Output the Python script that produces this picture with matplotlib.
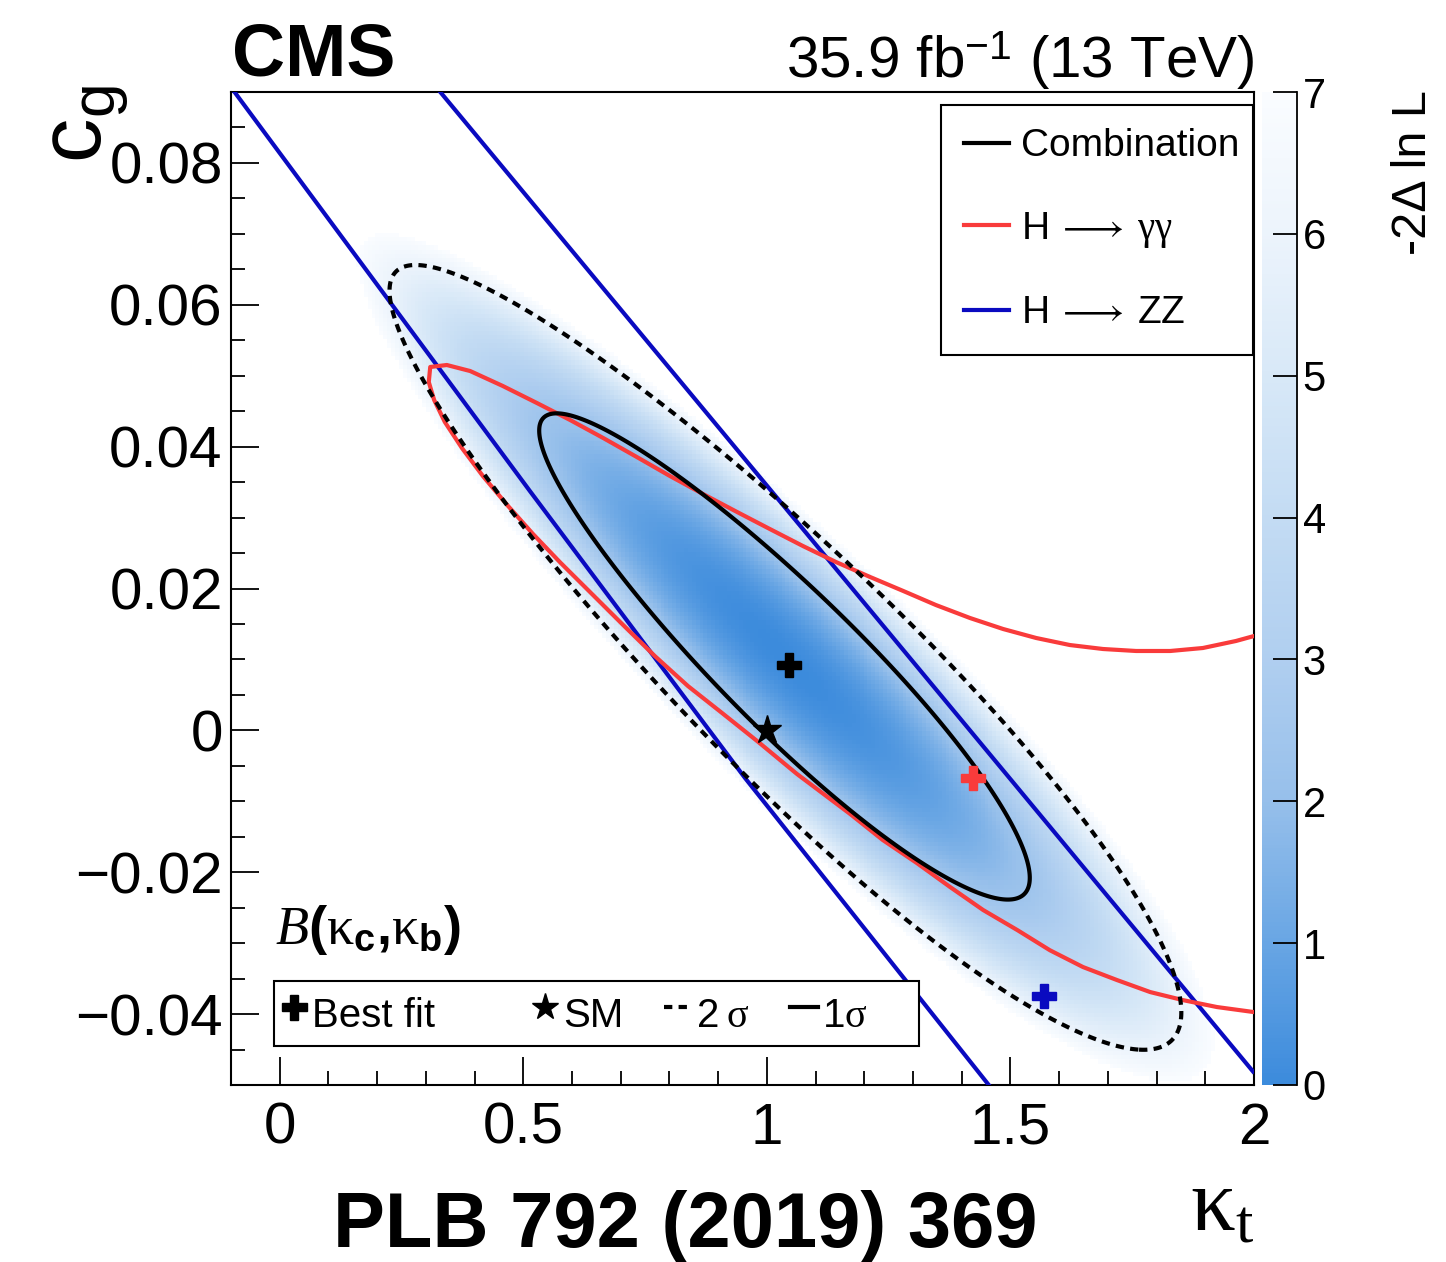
import numpy as np
import matplotlib
matplotlib.use("Agg")
import matplotlib.pyplot as plt
from matplotlib.colors import LinearSegmentedColormap
from matplotlib.lines import Line2D
from matplotlib.ticker import MultipleLocator

plt.rcParams['font.family'] = ['Liberation Sans', 'DejaVu Sans']
plt.rcParams['mathtext.fontset'] = 'custom'
plt.rcParams['mathtext.rm'] = 'Liberation Serif'
plt.rcParams['mathtext.it'] = 'Liberation Serif:italic'
plt.rcParams['mathtext.bf'] = 'Liberation Sans:bold'
plt.rcParams['mathtext.sf'] = 'Liberation Sans'
plt.rcParams['mathtext.fallback'] = 'stix'

# --- data --------------------------------------------------------------
# combined likelihood (-2 dlnL), approximated as a correlated quadratic
# whose width grows slightly towards large kappa_t
comb_center = (1.035, 0.0105)
comb_sigma = (0.332, 0.0226)
comb_rho = -0.92
comb_skew = 0.04
level_1sig = 2.30
level_2sig = 5.99

# best-fit points and SM
best_comb = (1.045, 0.0092)
best_gg = (1.424, -0.0067)
best_zz = (1.568, -0.0375)
sm_point = (1.0, 0.0)

# H -> gamma gamma 1 sigma contour (upper branch right->left, then lower branch)
gg_kt = [2.000, 1.963, 1.895, 1.828, 1.758, 1.690, 1.622, 1.553, 1.485, 1.417,
         1.347, 1.280, 1.212, 1.142, 1.074, 1.006, 0.939, 0.869, 0.801, 0.733,
         0.664, 0.596, 0.528, 0.458, 0.391, 0.343, 0.309,
         0.306, 0.317, 0.339, 0.374, 0.417, 0.467, 0.520, 0.575, 0.637, 0.703,
         0.770, 0.838, 0.908, 0.980, 1.062, 1.171, 1.238, 1.308, 1.376, 1.444,
         1.514, 1.581, 1.649, 1.719, 1.787, 1.854, 1.924, 2.000]
gg_cg = [0.01330, 0.01260, 0.01161, 0.01119, 0.01119, 0.01147, 0.01203, 0.01302, 0.01429, 0.01584,
         0.01767, 0.01965, 0.02162, 0.02373, 0.02599, 0.02839, 0.03078, 0.03332, 0.03586, 0.03854,
         0.04122, 0.04376, 0.04615, 0.04855, 0.05066, 0.05151, 0.05123,
         0.04911, 0.04658, 0.04347, 0.03981, 0.03586, 0.03177, 0.02768, 0.02373, 0.01950, 0.01499,
         0.01048, 0.00625, 0.00245, -0.00150, -0.00616, -0.01179, -0.01546, -0.01871, -0.02208, -0.02533,
         -0.02815, -0.03100, -0.03337, -0.03521, -0.03690, -0.03803, -0.03901, -0.03972]

# H -> ZZ 1 sigma band (two nearly straight edges)
zz_left_kt = [-0.096, 0.514, 0.955, 1.459]
zz_left_cg = [0.0903, 0.0337, -0.0067, -0.0503]
zz_right_kt = [0.326, 1.998]
zz_right_cg = [0.0903, -0.0481]

x_ticks = [0, 0.5, 1, 1.5, 2]
x_labels = ['0', '0.5', '1', '1.5', '2']
y_ticks = [-0.04, -0.02, 0, 0.02, 0.04, 0.06, 0.08]
y_labels = ['\u22120.04', '\u22120.02', '0', '0.02', '0.04', '0.06', '0.08']
z_ticks = [0, 1, 2, 3, 4, 5, 6, 7]

RED = '#f93b3b'
BLUE = '#0a0ac0'
LW = 3.0

# palette: strong blue at 0 fading to white at 7
cmap = LinearSegmentedColormap.from_list('nll', [
    (0.0, (0.235, 0.545, 0.863)),
    (1 / 7, (0.41, 0.65, 0.894)),
    (2 / 7, (0.59, 0.75, 0.92)),
    (3 / 7, (0.69, 0.81, 0.94)),
    (4 / 7, (0.765, 0.86, 0.953)),
    (5 / 7, (0.845, 0.91, 0.97)),
    (6 / 7, (0.925, 0.955, 0.987)),
    (1.0, (0.98, 0.99, 1.0)),
])


def nll(x, y):
    u = (x - comb_center[0]) / comb_sigma[0]
    v = (y - comb_center[1]) / comb_sigma[1]
    a = (u - v) / np.sqrt(2)      # along the long axis
    b = (u + v) / np.sqrt(2)      # across it
    w = 1 + comb_skew * a / np.sqrt(1 - comb_rho)
    return a ** 2 / (1 - comb_rho) + (b / w) ** 2 / (1 + comb_rho)


W, H = 1446, 1262
fig = plt.figure(figsize=(W / 100, H / 100), dpi=100)
ax = fig.add_axes([231 / W, 1 - 1085 / H, 1023 / W, 993 / H])
cax = fig.add_axes([1262 / W, 1 - 1085 / H, 35 / W, 993 / H])

xlo, xhi, ylo, yhi = -0.1, 2.0, -0.05, 0.09

# heat map (coarse bins like the original histogram)
xe = np.linspace(xlo, xhi, 263)
ye = np.linspace(ylo, yhi, 234)
xc = 0.5 * (xe[1:] + xe[:-1])
yc = 0.5 * (ye[1:] + ye[:-1])
Zc = nll(*np.meshgrid(xc, yc))
Zc = np.ma.masked_where(Zc > 7, Zc)
mesh = ax.pcolormesh(xe, ye, Zc, cmap=cmap, vmin=0, vmax=7, shading='flat', zorder=1)

# ZZ and gamma gamma contours
ax.plot(zz_left_kt, zz_left_cg, color=BLUE, lw=LW, zorder=3)
ax.plot(zz_right_kt, zz_right_cg, color=BLUE, lw=LW, zorder=3)
ax.plot(gg_kt, gg_cg, color=RED, lw=LW, zorder=4, solid_joinstyle='round')

# combination contours
xf = np.linspace(xlo, xhi, 700)
yf = np.linspace(ylo, yhi, 700)
Xf, Yf = np.meshgrid(xf, yf)
Zf = nll(Xf, Yf)
ax.contour(Xf, Yf, Zf, levels=[level_1sig], colors='k', linewidths=LW, zorder=5)
cs2 = ax.contour(Xf, Yf, Zf, levels=[level_2sig], colors='k', linewidths=LW, zorder=5)
cs2.set_linestyle((0, (2.0, 1.5)))

# markers
ax.plot(*best_comb, marker='P', color='k', ms=17, ls='none', zorder=6)
ax.plot(*best_gg, marker='P', color=RED, ms=17, ls='none', zorder=6)
ax.plot(*best_zz, marker='P', color=BLUE, ms=17, ls='none', zorder=6)
ax.plot(*sm_point, marker='*', color='k', ms=21, ls='none', zorder=6)

ax.set_xlim(xlo, xhi)
ax.set_ylim(ylo, yhi)
ax.set_xticks(x_ticks)
ax.set_xticklabels(x_labels)
ax.set_yticks(y_ticks)
ax.set_yticklabels(y_labels)
ax.xaxis.set_minor_locator(MultipleLocator(0.1))
ax.yaxis.set_minor_locator(MultipleLocator(0.005))
ax.tick_params(which='both', direction='in', top=False, right=False, width=1.3)
ax.tick_params(which='major', length=20, labelsize=42)
ax.tick_params(which='minor', length=10)
ax.tick_params(axis='x', pad=12)
ax.tick_params(axis='y', pad=6)
for sp in ax.spines.values():
    sp.set_linewidth(1.5)

# legends
leg1 = ax.legend(
    [Line2D([], [], color='k', lw=LW), Line2D([], [], color=RED, lw=LW),
     Line2D([], [], color=BLUE, lw=LW)],
    ['Combination', r'H$\;\longrightarrow\;\mathrm{\gamma\gamma}$', r'H$\;\longrightarrow\;$ZZ'],
    loc='upper left', bbox_to_anchor=(0.694, 0.738, 0.305, 0.249), mode='expand',
    borderaxespad=0, fontsize=28, frameon=True, fancybox=False, edgecolor='k',
    framealpha=1, labelspacing=1.17, handlelength=1.15, handletextpad=0.3, borderpad=0.6)
leg1.get_frame().set_linewidth(1.5)
ax.add_artist(leg1)

leg2 = ax.legend(
    [Line2D([], [], marker='P', color='k', ls='none', ms=18),
     Line2D([], [], marker='*', color='k', ls='none', ms=20),
     Line2D([], [], color='k', lw=LW, ls=(0, (2.0, 1.5))),
     Line2D([], [], color='k', lw=LW)],
    ['Best fit     ', 'SM', r'2$\;\mathrm{\sigma}$', r'1$\mathrm{\sigma}$     '],
    ncol=4, loc='lower left', bbox_to_anchor=(0.042, 0.039),
    borderaxespad=0, fontsize=29, frameon=True, fancybox=False, edgecolor='k',
    framealpha=1, handlelength=0.7, handletextpad=0.1, borderpad=0.15,
    handleheight=1.65, columnspacing=1.0)
leg2.get_frame().set_linewidth(1.5)

ax.text(0.043, 0.156, r'$\mathit{B}\mathbf{(}\mathrm{\kappa}_{\mathbf{c}}\mathbf{,}\mathrm{\kappa}_{\mathbf{b}}\mathbf{)}$',
        transform=ax.transAxes, fontsize=39, ha='left', va='center', zorder=7)

# colour bar
cb = fig.colorbar(mesh, cax=cax, ticks=z_ticks)
cb.outline.set_visible(False)
cax.spines['right'].set_visible(True)
cax.spines['right'].set_linewidth(1.3)
cax.tick_params(direction='in', length=17, width=1.3, labelsize=30, pad=4, right=True, left=False)
cax.minorticks_off()

# titles and labels
fig.text(232 / W, 1 - 75 / H, 'CMS', fontsize=53, fontweight='bold', ha='left', va='baseline')
fig.text(1254 / W, 1 - 78 / H, r'35.9 fb$^{\mathsf{-1}}$ (13 TeV)', fontsize=42, ha='right', va='baseline')
fig.text(685 / W, 1 - 1247 / H, 'PLB 792 (2019) 369', fontsize=56, fontweight='bold', ha='center', va='baseline')
fig.text(1254 / W, 1 - 1230 / H, r'$\mathrm{\kappa_{t}}$', fontsize=64, ha='right', va='baseline')
fig.text(88 / W, 1 - 85 / H, r'$\mathsf{c_{g}}$', fontsize=64, rotation=90, ha='center', va='top')
fig.text(1413 / W, 1 - 90 / H, '-2\u0394 ln L', fontsize=35, rotation=90, ha='center', va='top')

fig.savefig('out.png', dpi=100)
